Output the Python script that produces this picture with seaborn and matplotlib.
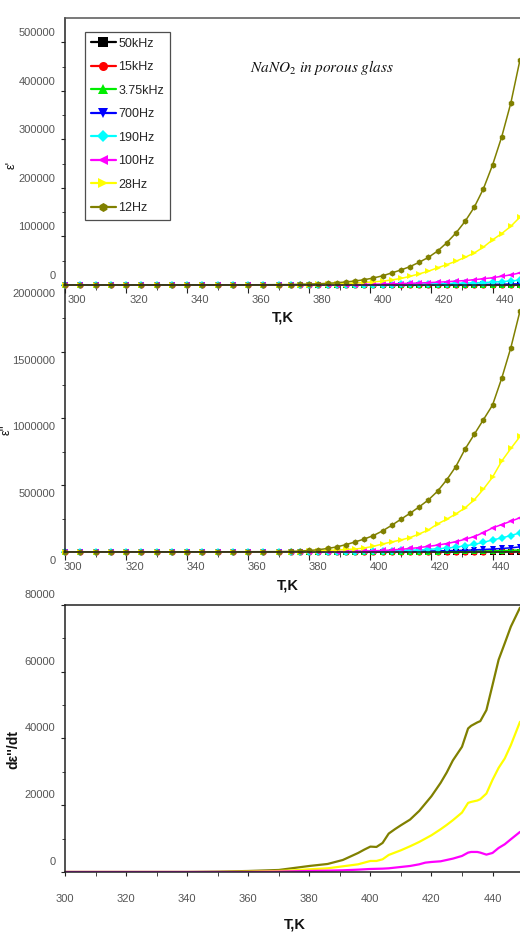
import numpy as np
import pandas as pd
import matplotlib
matplotlib.use('Agg')
import matplotlib.pyplot as plt
import matplotlib.transforms as mtransforms
import seaborn as sns

# 温度网格 (K)
T = [300, 305, 310, 315, 320, 325, 330, 335, 340, 345, 350, 355, 360, 365, 370,
     374, 377, 380, 383, 386, 389, 392, 395, 398, 401, 404, 407, 410, 413, 416,
     419, 422, 425, 428, 431, 434, 437, 440, 443, 446, 449]

freqs = ['50kHz', '15kHz', '3.75kHz', '700Hz', '190Hz', '100Hz', '28Hz', '12Hz']
colors = {'50kHz': '#000000', '15kHz': '#ff0000', '3.75kHz': '#00ee00', '700Hz': '#0000ff',
          '190Hz': '#00ffff', '100Hz': '#ff00ff', '28Hz': '#ffff00', '12Hz': '#808000'}
markers = {'50kHz': 's', '15kHz': 'o', '3.75kHz': '^', '700Hz': 'v',
           '190Hz': 'D', '100Hz': '<', '28Hz': '>', '12Hz': 'h'}

# eps' (x1000)
eps1_50kHz = [0.0, 0.0, 0.0, 0.0, 0.0, 0.0, 0.0, 0.0, 0.0, 0.0, 0.0, 0.0, 0.0, 0.0, 0.0,
              0.0, 0.0, 0.0, 0.0, 0.0, 0.0, 0.01, 0.01, 0.01, 0.01, 0.01, 0.01, 0.02, 0.02, 0.02,
              0.02, 0.03, 0.03, 0.03, 0.04, 0.04, 0.05, 0.06, 0.07, 0.08, 0.1]
eps1_15kHz = [0.0, 0.0, 0.0, 0.0, 0.0, 0.0, 0.0, 0.0, 0.0, 0.0, 0.0, 0.0, 0.0, 0.0, 0.0,
              0.0, 0.01, 0.01, 0.01, 0.01, 0.01, 0.01, 0.02, 0.02, 0.02, 0.02, 0.03, 0.03, 0.04, 0.04,
              0.05, 0.05, 0.06, 0.07, 0.08, 0.09, 0.1, 0.12, 0.14, 0.17, 0.2]
eps1_3750Hz = [0.01, 0.01, 0.01, 0.01, 0.01, 0.01, 0.01, 0.01, 0.01, 0.01, 0.01, 0.01, 0.01, 0.01, 0.01,
               0.01, 0.01, 0.01, 0.02, 0.02, 0.02, 0.03, 0.03, 0.04, 0.05, 0.06, 0.07, 0.08, 0.1, 0.12,
               0.14, 0.16, 0.19, 0.22, 0.25, 0.29, 0.33, 0.38, 0.44, 0.52, 0.6]
eps1_700Hz = [0.01, 0.01, 0.01, 0.01, 0.01, 0.01, 0.01, 0.01, 0.01, 0.01, 0.01, 0.01, 0.01, 0.01, 0.01,
              0.02, 0.03, 0.04, 0.05, 0.06, 0.08, 0.1, 0.12, 0.15, 0.18, 0.22, 0.27, 0.32, 0.38, 0.45,
              0.52, 0.6, 0.7, 0.8, 0.92, 1.05, 1.2, 1.4, 1.65, 2.0, 2.5]
eps1_190Hz = [0.02, 0.02, 0.02, 0.02, 0.02, 0.02, 0.02, 0.02, 0.02, 0.02, 0.02, 0.02, 0.02, 0.02, 0.02,
              0.05, 0.07, 0.1, 0.13, 0.18, 0.25, 0.33, 0.42, 0.55, 0.7, 0.85, 1.05, 1.3, 1.55, 1.8,
              2.1, 2.5, 2.9, 3.4, 3.9, 4.5, 5.2, 6.0, 7.0, 8.4, 10]
eps1_100Hz = [0.05, 0.05, 0.05, 0.05, 0.05, 0.05, 0.05, 0.05, 0.05, 0.05, 0.05, 0.05, 0.05, 0.05, 0.05,
              0.1, 0.15, 0.2, 0.3, 0.4, 0.6, 0.8, 1.0, 1.3, 1.6, 2.0, 2.5, 3.0, 3.6, 4.2,
              5.0, 5.8, 6.8, 8.0, 9.3, 11, 13, 15, 18, 21, 25]
eps1_28Hz = [0.1, 0.1, 0.1, 0.1, 0.1, 0.1, 0.1, 0.1, 0.2, 0.2, 0.2, 0.2, 0.2, 0.2, 0.2,
             0.4, 0.6, 0.9, 1.2, 1.7, 2.3, 3.1, 4.1, 5.3, 6.6, 8.0, 10.5, 13.5, 18, 23,
             28.5, 35.5, 42, 49, 57, 66, 78, 93, 106, 121, 140]
eps1_12Hz = [0.2, 0.2, 0.2, 0.2, 0.2, 0.2, 0.3, 0.3, 0.3, 0.3, 0.4, 0.4, 0.5, 0.6, 0.8,
             1.0, 1.5, 2.0, 2.6, 3.5, 4.7, 6.3, 8.3, 11, 14.5, 19, 25, 31, 38, 47,
             57, 70, 87, 107, 131, 160, 198, 247, 305, 375, 464]

# eps'' (x1000)
eps2_50kHz = [0.1, 0.1, 0.1, 0.1, 0.1, 0.1, 0.1, 0.1, 0.1, 0.1, 0.1, 0.1, 0.1, 0.1, 0.1,
              0.1, 0.1, 0.1, 0.1, 0.1, 0.2, 0.2, 0.2, 0.2, 0.3, 0.3, 0.3, 0.4, 0.4, 0.5,
              0.6, 0.7, 0.8, 0.9, 1.0, 1.2, 1.4, 1.7, 2.0, 2.4, 3.0]
eps2_15kHz = [0.1, 0.1, 0.1, 0.1, 0.1, 0.1, 0.1, 0.1, 0.1, 0.1, 0.1, 0.1, 0.1, 0.1, 0.1,
              0.1, 0.1, 0.2, 0.2, 0.2, 0.3, 0.3, 0.4, 0.4, 0.5, 0.6, 0.7, 0.8, 0.9, 1.1,
              1.3, 1.5, 1.8, 2.1, 2.5, 2.9, 3.4, 4.0, 4.6, 5.3, 6.0]
eps2_3750Hz = [0.1, 0.1, 0.1, 0.1, 0.1, 0.1, 0.1, 0.1, 0.1, 0.1, 0.1, 0.1, 0.1, 0.1, 0.1,
               0.1, 0.15, 0.2, 0.25, 0.3, 0.4, 0.5, 0.6, 0.75, 0.9, 1.1, 1.3, 1.6, 1.9, 2.2,
               2.6, 3.1, 3.6, 4.2, 5.0, 5.9, 7.0, 8.3, 9.8, 12, 15]
eps2_700Hz = [0.1, 0.1, 0.1, 0.1, 0.1, 0.1, 0.1, 0.1, 0.1, 0.1, 0.1, 0.1, 0.1, 0.1, 0.1,
              0.2, 0.3, 0.4, 0.5, 0.7, 0.9, 1.1, 1.4, 1.8, 2.2, 2.7, 3.3, 4.0, 4.8, 5.7,
              6.8, 8.0, 9.5, 11, 13, 15.5, 18.5, 22, 26, 31, 38]
eps2_190Hz = [0.2, 0.2, 0.2, 0.2, 0.2, 0.2, 0.2, 0.2, 0.2, 0.2, 0.2, 0.2, 0.2, 0.2, 0.2,
              0.3, 0.4, 0.6, 0.9, 1.3, 1.8, 2.5, 3.4, 4.5, 5.8, 7.3, 9, 11, 13, 15,
              19, 24, 29, 36, 46, 57, 72, 90, 105, 123, 143]
eps2_100Hz = [0.3, 0.3, 0.3, 0.3, 0.3, 0.3, 0.3, 0.3, 0.3, 0.3, 0.3, 0.3, 0.3, 0.3, 0.3,
              0.5, 0.7, 1, 1.5, 2, 3, 4, 6, 7, 9, 11, 15, 20, 26, 33,
              42, 51, 63, 77, 95, 115, 145, 180, 205, 230, 256]
eps2_28Hz = [0.5, 0.5, 0.5, 0.5, 0.5, 0.5, 0.5, 0.5, 0.5, 0.5, 0.5, 0.5, 0.6, 0.7, 0.8,
             1, 2, 4, 7, 11, 15, 19, 22, 30, 42, 60, 75, 90, 108, 135,
             165, 210, 245, 285, 330, 390, 470, 560, 680, 775, 865]
eps2_12Hz = [1, 1, 1, 1, 1, 1, 1, 1, 1.5, 1.5, 1.5, 1.5, 2, 2, 2.5,
             4, 7, 11, 17, 26, 38, 55, 75, 97, 123, 158, 200, 245, 290, 338,
             390, 455, 540, 640, 770, 880, 990, 1100, 1300, 1530, 1805]

# d eps''/dT
Td = [300, 340, 350, 360, 370, 375, 380, 386, 391, 396, 398, 400, 402, 404, 406, 408, 410, 413,
      416, 418, 420, 423, 425, 427, 430, 432, 433, 435, 436, 438, 440, 442, 444, 446, 449]
deriv_12Hz = [0, 0, 100, 300, 600, 1200, 1800, 2400, 3600, 5700, 6700, 7600, 7500, 8700, 11500,
              12800, 14000, 15700, 18300, 20500, 22700, 26700, 29800, 33400, 37500, 43000, 43800,
              44800, 45200, 48500, 56000, 63600, 68500, 73500, 79200]
deriv_28Hz = [0, 0, 0, 100, 300, 500, 800, 1100, 1700, 2300, 2800, 3300, 3300, 3800, 5100,
              5800, 6500, 7700, 9000, 10000, 11000, 12800, 14100, 15500, 17800, 20700, 21000,
              21400, 21800, 23500, 27600, 31200, 34000, 38000, 45000]
deriv_100Hz = [0, 0, 0, 0, 100, 200, 300, 400, 500, 700, 800, 900, 950, 1000, 1100,
               1300, 1500, 1800, 2300, 2800, 3000, 3200, 3600, 4000, 4800, 5800, 6000,
               6000, 5800, 5200, 5700, 7200, 8300, 9800, 12000]

eps1_all = [eps1_50kHz, eps1_15kHz, eps1_3750Hz, eps1_700Hz, eps1_190Hz, eps1_100Hz, eps1_28Hz, eps1_12Hz]
eps2_all = [eps2_50kHz, eps2_15kHz, eps2_3750Hz, eps2_700Hz, eps2_190Hz, eps2_100Hz, eps2_28Hz, eps2_12Hz]

df = pd.DataFrame({
    'T': np.tile(T, len(freqs)),
    'freq': np.repeat(freqs, len(T)),
    'eps1': np.concatenate(eps1_all) * 1e3,
    'eps2': np.concatenate(eps2_all) * 1e3,
})
d_order = ['12Hz', '28Hz', '100Hz']
dfd = pd.DataFrame({
    'T': np.tile(Td, 3),
    'freq': np.repeat(d_order, len(Td)),
    'deps': np.concatenate([deriv_12Hz, deriv_28Hz, deriv_100Hz]),
})

sns.set_style('ticks')
plt.rcParams['font.family'] = ['Liberation Sans Narrow', 'Liberation Sans', 'DejaVu Sans']
plt.rcParams['mathtext.fontset'] = 'stix'

fig = plt.figure(figsize=(5.2, 9.33), dpi=100)
ax1 = fig.add_axes([0.125, 0.6945, 0.875, 0.2862])
ax2 = fig.add_axes([0.125, 0.4084, 0.875, 0.2862])
ax3 = fig.add_axes([0.125, 0.0654, 0.875, 0.2862])

common = dict(x='T', hue='freq', style='freq', hue_order=freqs, style_order=freqs,
              palette=colors, markers=markers, dashes=False, markersize=4.5,
              markeredgewidth=0, linewidth=1.1, estimator=None, sort=False)
sns.lineplot(data=df, y='eps1', ax=ax1, legend='full', clip_on=False, **common)
sns.lineplot(data=df, y='eps2', ax=ax2, legend=False, clip_on=False, **common)
sns.lineplot(data=dfd, x='T', y='deps', hue='freq', hue_order=d_order, palette=colors,
             linewidth=1.6, estimator=None, sort=False, legend=False, ax=ax3)

def style_axis(ax, yticks, yminor, ymax):
    ax.set_facecolor('none')
    ax.set_xlim(300, 449)
    ax.set_ylim(0, ymax)
    ax.set_xticks([300, 320, 340, 360, 380, 400, 420, 440])
    ax.set_xticks([310, 330, 350, 370, 390, 410, 430], minor=True)
    ax.set_yticks(yticks)
    ax.set_yticks(yminor, minor=True)
    ax.ticklabel_format(axis='y', style='plain', useOffset=False)
    ax.spines['right'].set_visible(False)
    for s in ['left', 'bottom', 'top']:
        ax.spines[s].set_color('#222222')
        ax.spines[s].set_linewidth(1.1)
    ax.spines['top'].set_color('#555555')
    ax.tick_params(axis='both', which='both', direction='out', colors='#222222',
                   labelcolor='#555555', labelsize=8)
    ax.tick_params(axis='y', which='major', length=3, pad=4)
    ax.tick_params(axis='y', which='minor', length=2.5)
    ax.tick_params(axis='x', which='major', length=5.5, pad=2)
    ax.tick_params(axis='x', which='minor', length=3.5)

style_axis(ax1, [0, 100000, 200000, 300000, 400000, 500000],
           [50000, 150000, 250000, 350000, 450000], 550000)
style_axis(ax2, [0, 500000, 1000000, 1500000, 2000000],
           [250000, 750000, 1250000, 1750000], 2000000)
style_axis(ax3, [0, 20000, 40000, 60000, 80000],
           [10000, 30000, 50000, 70000], 80000)
ax3.tick_params(axis='x', which='both', length=3, pad=13)
ax3.spines['top'].set_color('#222222')

def shift_labels(ax, dx, dy, which):
    off = mtransforms.ScaledTranslation(dx, dy, fig.dpi_scale_trans)
    ticks = ax.yaxis.get_major_ticks() if which == 'y' else ax.xaxis.get_major_ticks()
    for t in ticks:
        t.label1.set_transform(t.label1.get_transform() + off)
        if which == 'x-left':
            t.label1.set_horizontalalignment('left')

shift_labels(ax1, 0, 0.10, 'y')
shift_labels(ax2, 0, -0.08, 'y')
shift_labels(ax3, 0, 0.11, 'y')
shift_labels(ax1, 0.03, 0, 'x-left')
shift_labels(ax2, -0.01, 0, 'x-left')

for ax, pos in [(ax1, (0.479, -0.097)), (ax2, (0.49, -0.101)), (ax3, (0.505, -0.169))]:
    ax.set_xlabel('T,K', fontsize=10.5, fontweight='bold', color='#111111')
    ax.xaxis.set_label_coords(*pos)

ax1.set_ylabel("ε'", fontsize=9, color='#111111')
ax1.yaxis.set_label_coords(-0.105, 0.449)
ax2.set_ylabel("ε''", fontsize=9, color='#111111')
ax2.yaxis.set_label_coords(-0.116, 0.457)
ax3.set_ylabel("dε''/dt", fontsize=10, fontweight='bold', color='#111111')
ax3.yaxis.set_label_coords(-0.099, 0.457)

ax1.text(0.407, 0.813, r'$\mathit{NaNO_2\ in\ porous\ glass}$', transform=ax1.transAxes,
         fontsize=11, va='center', ha='left', color='#111111')

handles, labels = ax1.get_legend_handles_labels()
leg = ax1.legend(handles, labels, loc='upper left', bbox_to_anchor=(0.044, 0.948),
                 borderaxespad=0, frameon=True, fancybox=False, edgecolor='#222222',
                 fontsize=9, handlelength=2.0, handletextpad=0.2, labelspacing=0.92,
                 borderpad=0.45)
leg.get_frame().set_linewidth(0.9)
for h in leg.legend_handles:
    h.set_markersize(6.5)
    h.set_linewidth(1.6)

ax1.set_zorder(3)
ax2.set_zorder(2)
ax3.set_zorder(1)

fig.savefig('out.png', dpi=100)
